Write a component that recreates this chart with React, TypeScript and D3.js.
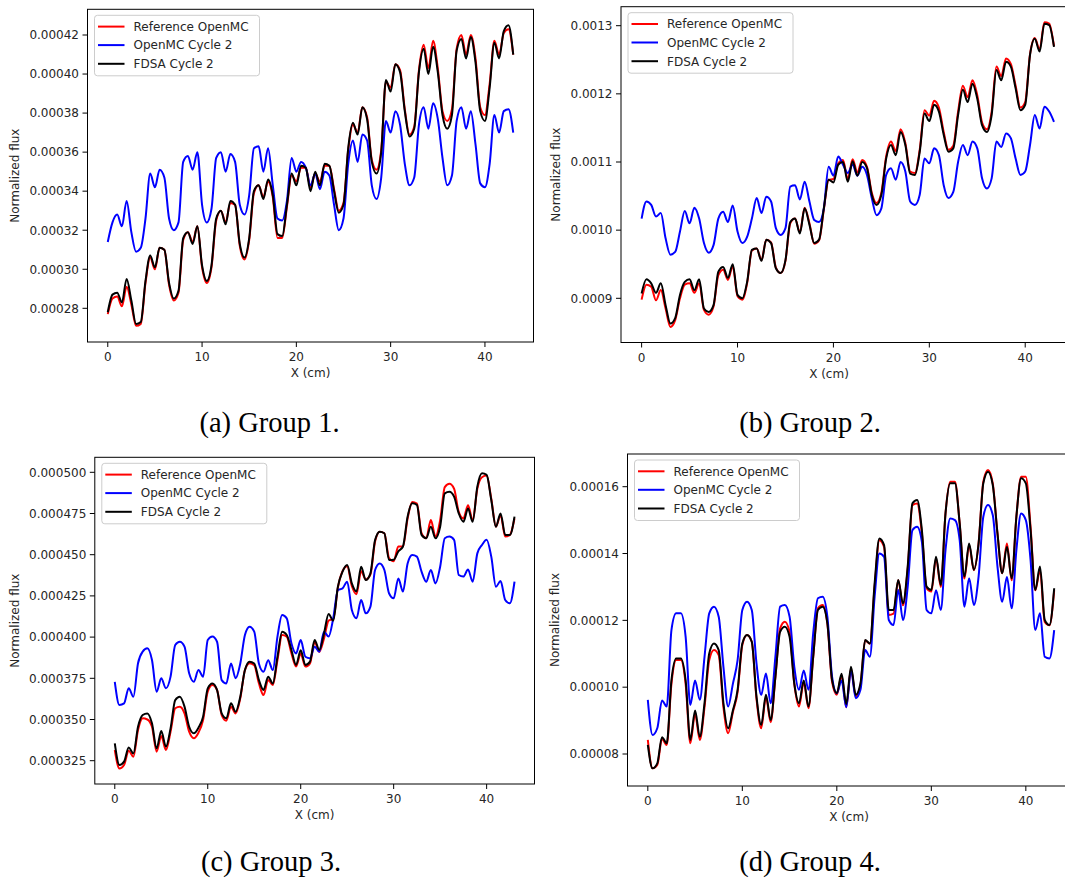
import React from 'react';
import * as d3 from 'd3';

// Sample positions along X (cm): 0, 0.5, 1.0, ..., 43.0
const xPositions = d3.range(0, 87).map((i) => i * 0.5);

// ---------- Group 1 ----------
const group1Reference = [
  2.77e-4, 2.85e-4, 2.86e-4, 2.81e-4, 2.91e-4, 2.82e-4, 2.71e-4, 2.72e-4, 2.93e-4, 3.06e-4,
  3.00e-4, 3.11e-4, 3.10e-4, 2.92e-4, 2.84e-4, 2.88e-4, 3.15e-4, 3.19e-4, 3.14e-4, 3.22e-4,
  3.01e-4, 2.93e-4, 3.01e-4, 3.25e-4, 3.30e-4, 3.24e-4, 3.34e-4, 3.33e-4, 3.12e-4, 3.05e-4,
  3.15e-4, 3.39e-4, 3.43e-4, 3.37e-4, 3.45e-4, 3.37e-4, 3.16e-4, 3.16e-4, 3.32e-4, 3.48e-4,
  3.45e-4, 3.52e-4, 3.52e-4, 3.42e-4, 3.49e-4, 3.45e-4, 3.53e-4, 3.53e-4, 3.41e-4, 3.30e-4,
  3.34e-4, 3.61e-4, 3.74e-4, 3.70e-4, 3.83e-4, 3.78e-4, 3.56e-4, 3.51e-4, 3.61e-4, 3.96e-4,
  3.93e-4, 4.05e-4, 4.02e-4, 3.82e-4, 3.69e-4, 3.73e-4, 4.02e-4, 4.15e-4, 4.03e-4, 4.17e-4,
  4.03e-4, 3.81e-4, 3.76e-4, 3.82e-4, 4.13e-4, 4.20e-4, 4.10e-4, 4.20e-4, 4.08e-4, 3.83e-4,
  3.79e-4, 3.95e-4, 4.17e-4, 4.10e-4, 4.21e-4, 4.23e-4, 4.10e-4,
];
const group1OpenMC = [
  3.14e-4, 3.24e-4, 3.28e-4, 3.22e-4, 3.35e-4, 3.19e-4, 3.09e-4, 3.11e-4, 3.26e-4, 3.49e-4,
  3.42e-4, 3.51e-4, 3.47e-4, 3.26e-4, 3.20e-4, 3.24e-4, 3.55e-4, 3.58e-4, 3.51e-4, 3.60e-4,
  3.33e-4, 3.24e-4, 3.31e-4, 3.57e-4, 3.60e-4, 3.50e-4, 3.59e-4, 3.55e-4, 3.33e-4, 3.28e-4,
  3.38e-4, 3.62e-4, 3.63e-4, 3.50e-4, 3.62e-4, 3.43e-4, 3.26e-4, 3.25e-4, 3.35e-4, 3.57e-4,
  3.50e-4, 3.55e-4, 3.52e-4, 3.43e-4, 3.49e-4, 3.41e-4, 3.50e-4, 3.48e-4, 3.33e-4, 3.20e-4,
  3.26e-4, 3.54e-4, 3.66e-4, 3.55e-4, 3.69e-4, 3.66e-4, 3.43e-4, 3.36e-4, 3.47e-4, 3.76e-4,
  3.70e-4, 3.81e-4, 3.74e-4, 3.54e-4, 3.43e-4, 3.47e-4, 3.74e-4, 3.83e-4, 3.72e-4, 3.85e-4,
  3.77e-4, 3.57e-4, 3.43e-4, 3.48e-4, 3.76e-4, 3.83e-4, 3.72e-4, 3.81e-4, 3.64e-4, 3.44e-4,
  3.42e-4, 3.54e-4, 3.79e-4, 3.70e-4, 3.81e-4, 3.82e-4, 3.70e-4,
];
const group1FDSA = [
  2.78e-4, 2.87e-4, 2.88e-4, 2.83e-4, 2.95e-4, 2.84e-4, 2.72e-4, 2.73e-4, 2.94e-4, 3.07e-4,
  3.01e-4, 3.11e-4, 3.10e-4, 2.93e-4, 2.85e-4, 2.89e-4, 3.16e-4, 3.19e-4, 3.13e-4, 3.22e-4,
  3.02e-4, 2.94e-4, 3.02e-4, 3.26e-4, 3.30e-4, 3.23e-4, 3.35e-4, 3.33e-4, 3.13e-4, 3.06e-4,
  3.16e-4, 3.40e-4, 3.43e-4, 3.36e-4, 3.46e-4, 3.38e-4, 3.18e-4, 3.17e-4, 3.33e-4, 3.49e-4,
  3.43e-4, 3.53e-4, 3.52e-4, 3.40e-4, 3.50e-4, 3.43e-4, 3.54e-4, 3.53e-4, 3.40e-4, 3.29e-4,
  3.33e-4, 3.62e-4, 3.75e-4, 3.69e-4, 3.83e-4, 3.77e-4, 3.55e-4, 3.49e-4, 3.60e-4, 3.97e-4,
  3.91e-4, 4.05e-4, 4.01e-4, 3.81e-4, 3.68e-4, 3.72e-4, 4.01e-4, 4.13e-4, 4.00e-4, 4.14e-4,
  4.01e-4, 3.79e-4, 3.72e-4, 3.79e-4, 4.12e-4, 4.18e-4, 4.08e-4, 4.19e-4, 4.06e-4, 3.81e-4,
  3.76e-4, 3.93e-4, 4.16e-4, 4.08e-4, 4.22e-4, 4.25e-4, 4.10e-4,
];

// ---------- Group 2 ----------
const group2Reference = [
  8.98e-4, 9.20e-4, 9.17e-4, 8.97e-4, 9.12e-4, 8.85e-4, 8.58e-4, 8.68e-4, 9.00e-4, 9.20e-4,
  9.22e-4, 9.08e-4, 9.22e-4, 8.83e-4, 8.76e-4, 8.88e-4, 9.34e-4, 9.42e-4, 9.27e-4, 9.47e-4,
  9.03e-4, 8.98e-4, 9.22e-4, 9.70e-4, 9.73e-4, 9.56e-4, 9.86e-4, 9.82e-4, 9.45e-4, 9.37e-4,
  9.55e-4, 10.10e-4, 10.17e-4, 9.97e-4, 10.33e-4, 10.10e-4, 9.80e-4, 9.85e-4, 10.30e-4, 10.74e-4,
  10.75e-4, 10.98e-4, 11.03e-4, 10.75e-4, 11.04e-4, 10.85e-4, 11.03e-4, 10.93e-4, 10.55e-4, 10.40e-4,
  10.55e-4, 11.08e-4, 11.30e-4, 11.16e-4, 11.48e-4, 11.28e-4, 10.86e-4, 10.84e-4, 11.18e-4, 11.76e-4,
  11.68e-4, 11.90e-4, 11.80e-4, 11.44e-4, 11.18e-4, 11.24e-4, 11.74e-4, 12.12e-4, 11.95e-4, 12.20e-4,
  11.98e-4, 11.58e-4, 11.48e-4, 11.74e-4, 12.40e-4, 12.26e-4, 12.52e-4, 12.44e-4, 12.12e-4, 11.80e-4,
  11.88e-4, 12.58e-4, 12.82e-4, 12.65e-4, 13.05e-4, 13.03e-4, 12.70e-4,
];
const group2OpenMC = [
  10.17e-4, 10.42e-4, 10.37e-4, 10.20e-4, 10.25e-4, 9.88e-4, 9.64e-4, 9.68e-4, 9.98e-4, 10.28e-4,
  10.10e-4, 10.33e-4, 10.17e-4, 9.81e-4, 9.67e-4, 9.78e-4, 10.17e-4, 10.27e-4, 10.12e-4, 10.36e-4,
  9.98e-4, 9.81e-4, 9.90e-4, 10.17e-4, 10.47e-4, 10.25e-4, 10.49e-4, 10.42e-4, 10.03e-4, 9.93e-4,
  10.03e-4, 10.64e-4, 10.66e-4, 10.45e-4, 10.71e-4, 10.42e-4, 10.15e-4, 10.12e-4, 10.32e-4, 10.93e-4,
  10.80e-4, 11.08e-4, 10.96e-4, 10.84e-4, 10.96e-4, 10.80e-4, 10.93e-4, 10.81e-4, 10.47e-4, 10.22e-4,
  10.32e-4, 10.81e-4, 10.91e-4, 10.74e-4, 11.00e-4, 10.86e-4, 10.42e-4, 10.37e-4, 10.52e-4, 11.05e-4,
  10.98e-4, 11.20e-4, 11.10e-4, 10.66e-4, 10.47e-4, 10.56e-4, 11.00e-4, 11.25e-4, 11.10e-4, 11.30e-4,
  11.20e-4, 10.76e-4, 10.61e-4, 10.76e-4, 11.30e-4, 11.22e-4, 11.42e-4, 11.35e-4, 11.05e-4, 10.81e-4,
  10.86e-4, 11.25e-4, 11.69e-4, 11.49e-4, 11.81e-4, 11.74e-4, 11.59e-4,
];
const group2FDSA = [
  9.07e-4, 9.28e-4, 9.22e-4, 9.08e-4, 9.22e-4, 8.90e-4, 8.63e-4, 8.71e-4, 9.05e-4, 9.24e-4,
  9.28e-4, 9.12e-4, 9.28e-4, 8.85e-4, 8.80e-4, 8.90e-4, 9.39e-4, 9.46e-4, 9.30e-4, 9.50e-4,
  9.05e-4, 9.00e-4, 9.24e-4, 9.71e-4, 9.73e-4, 9.55e-4, 9.86e-4, 9.81e-4, 9.44e-4, 9.37e-4,
  9.56e-4, 10.12e-4, 10.17e-4, 9.95e-4, 10.32e-4, 10.08e-4, 9.81e-4, 9.86e-4, 10.32e-4, 10.74e-4,
  10.70e-4, 10.96e-4, 11.00e-4, 10.71e-4, 11.01e-4, 10.80e-4, 11.00e-4, 10.91e-4, 10.52e-4, 10.37e-4,
  10.52e-4, 11.05e-4, 11.25e-4, 11.10e-4, 11.44e-4, 11.25e-4, 10.83e-4, 10.81e-4, 11.15e-4, 11.71e-4,
  11.60e-4, 11.84e-4, 11.74e-4, 11.40e-4, 11.15e-4, 11.20e-4, 11.69e-4, 12.06e-4, 11.88e-4, 12.15e-4,
  11.93e-4, 11.54e-4, 11.44e-4, 11.69e-4, 12.35e-4, 12.20e-4, 12.47e-4, 12.40e-4, 12.08e-4, 11.76e-4,
  11.84e-4, 12.57e-4, 12.81e-4, 12.62e-4, 13.03e-4, 13.01e-4, 12.69e-4,
];

// ---------- Group 3 ----------
const group3Reference = [
  3.315e-4, 3.203e-4, 3.224e-4, 3.310e-4, 3.274e-4, 3.436e-4, 3.507e-4, 3.500e-4, 3.456e-4, 3.305e-4,
  3.400e-4, 3.315e-4, 3.426e-4, 3.568e-4, 3.578e-4, 3.537e-4, 3.426e-4, 3.386e-4, 3.420e-4, 3.497e-4,
  3.669e-4, 3.709e-4, 3.679e-4, 3.527e-4, 3.493e-4, 3.578e-4, 3.537e-4, 3.628e-4, 3.800e-4, 3.841e-4,
  3.830e-4, 3.720e-4, 3.648e-4, 3.740e-4, 3.709e-4, 3.861e-4, 4.013e-4, 4.003e-4, 3.902e-4, 3.821e-4,
  3.900e-4, 3.821e-4, 3.841e-4, 3.970e-4, 3.910e-4, 3.990e-4, 4.100e-4, 4.110e-4, 4.300e-4, 4.400e-4,
  4.430e-4, 4.310e-4, 4.260e-4, 4.400e-4, 4.350e-4, 4.380e-4, 4.580e-4, 4.640e-4, 4.630e-4, 4.480e-4,
  4.460e-4, 4.550e-4, 4.550e-4, 4.720e-4, 4.820e-4, 4.810e-4, 4.630e-4, 4.600e-4, 4.710e-4, 4.610e-4,
  4.710e-4, 4.910e-4, 4.930e-4, 4.900e-4, 4.760e-4, 4.720e-4, 4.800e-4, 4.710e-4, 4.900e-4, 4.970e-4,
  4.980e-4, 4.840e-4, 4.670e-4, 4.740e-4, 4.610e-4, 4.620e-4, 4.720e-4,
];
const group3OpenMC = [
  3.729e-4, 3.588e-4, 3.598e-4, 3.690e-4, 3.638e-4, 3.841e-4, 3.912e-4, 3.932e-4, 3.861e-4, 3.669e-4,
  3.750e-4, 3.689e-4, 3.760e-4, 3.952e-4, 3.972e-4, 3.942e-4, 3.780e-4, 3.729e-4, 3.800e-4, 3.760e-4,
  3.982e-4, 4.003e-4, 3.972e-4, 3.739e-4, 3.719e-4, 3.840e-4, 3.750e-4, 3.840e-4, 4.013e-4, 4.063e-4,
  4.033e-4, 3.840e-4, 3.790e-4, 3.860e-4, 3.800e-4, 4.003e-4, 4.134e-4, 4.114e-4, 3.962e-4, 3.901e-4,
  3.982e-4, 3.881e-4, 3.871e-4, 3.942e-4, 3.911e-4, 4.033e-4, 4.003e-4, 4.114e-4, 4.286e-4, 4.296e-4,
  4.336e-4, 4.164e-4, 4.114e-4, 4.225e-4, 4.144e-4, 4.185e-4, 4.407e-4, 4.447e-4, 4.407e-4, 4.266e-4,
  4.235e-4, 4.356e-4, 4.276e-4, 4.447e-4, 4.498e-4, 4.488e-4, 4.397e-4, 4.336e-4, 4.407e-4, 4.326e-4,
  4.427e-4, 4.600e-4, 4.610e-4, 4.590e-4, 4.377e-4, 4.367e-4, 4.410e-4, 4.336e-4, 4.508e-4, 4.559e-4,
  4.590e-4, 4.488e-4, 4.306e-4, 4.340e-4, 4.225e-4, 4.205e-4, 4.336e-4,
];
const group3FDSA = [
  3.355e-4, 3.224e-4, 3.244e-4, 3.330e-4, 3.294e-4, 3.456e-4, 3.527e-4, 3.537e-4, 3.477e-4, 3.325e-4,
  3.430e-4, 3.335e-4, 3.446e-4, 3.618e-4, 3.638e-4, 3.578e-4, 3.456e-4, 3.416e-4, 3.450e-4, 3.517e-4,
  3.689e-4, 3.719e-4, 3.679e-4, 3.537e-4, 3.507e-4, 3.598e-4, 3.547e-4, 3.638e-4, 3.800e-4, 3.851e-4,
  3.840e-4, 3.740e-4, 3.679e-4, 3.760e-4, 3.719e-4, 3.881e-4, 4.033e-4, 4.013e-4, 3.922e-4, 3.831e-4,
  3.920e-4, 3.831e-4, 3.851e-4, 3.982e-4, 3.922e-4, 4.020e-4, 4.140e-4, 4.100e-4, 4.306e-4, 4.397e-4,
  4.437e-4, 4.326e-4, 4.276e-4, 4.427e-4, 4.346e-4, 4.387e-4, 4.589e-4, 4.640e-4, 4.630e-4, 4.468e-4,
  4.470e-4, 4.520e-4, 4.550e-4, 4.731e-4, 4.812e-4, 4.802e-4, 4.620e-4, 4.600e-4, 4.670e-4, 4.600e-4,
  4.670e-4, 4.872e-4, 4.882e-4, 4.852e-4, 4.751e-4, 4.700e-4, 4.780e-4, 4.700e-4, 4.913e-4, 4.994e-4,
  4.984e-4, 4.832e-4, 4.670e-4, 4.750e-4, 4.620e-4, 4.620e-4, 4.731e-4,
];

// ---------- Group 4 ----------
const group4Reference = [
  0.842e-4, 0.757e-4, 0.767e-4, 0.845e-4, 0.827e-4, 1.010e-4, 1.081e-4, 1.081e-4, 1.010e-4, 0.832e-4,
  0.920e-4, 0.842e-4, 0.940e-4, 1.081e-4, 1.111e-4, 1.096e-4, 0.940e-4, 0.862e-4, 0.925e-4, 0.985e-4,
  1.126e-4, 1.156e-4, 1.136e-4, 0.965e-4, 0.877e-4, 0.970e-4, 0.895e-4, 1.030e-4, 1.176e-4, 1.196e-4,
  1.166e-4, 1.010e-4, 0.942e-4, 1.015e-4, 0.937e-4, 1.090e-4, 1.236e-4, 1.246e-4, 1.190e-4, 1.015e-4,
  0.977e-4, 1.035e-4, 0.940e-4, 1.055e-4, 0.972e-4, 1.006e-4, 1.140e-4, 1.130e-4, 1.300e-4, 1.440e-4,
  1.420e-4, 1.216e-4, 1.220e-4, 1.320e-4, 1.245e-4, 1.355e-4, 1.545e-4, 1.550e-4, 1.460e-4, 1.296e-4,
  1.286e-4, 1.385e-4, 1.300e-4, 1.520e-4, 1.615e-4, 1.615e-4, 1.490e-4, 1.325e-4, 1.425e-4, 1.350e-4,
  1.430e-4, 1.615e-4, 1.650e-4, 1.610e-4, 1.460e-4, 1.341e-4, 1.430e-4, 1.320e-4, 1.510e-4, 1.630e-4,
  1.630e-4, 1.480e-4, 1.290e-4, 1.350e-4, 1.195e-4, 1.185e-4, 1.290e-4,
];
const group4OpenMC = [
  0.962e-4, 0.857e-4, 0.877e-4, 0.960e-4, 0.942e-4, 1.171e-4, 1.221e-4, 1.221e-4, 1.151e-4, 0.947e-4,
  1.020e-4, 0.962e-4, 1.091e-4, 1.221e-4, 1.241e-4, 1.211e-4, 1.061e-4, 0.942e-4, 1.010e-4, 1.081e-4,
  1.231e-4, 1.256e-4, 1.231e-4, 1.071e-4, 0.977e-4, 1.041e-4, 0.952e-4, 1.091e-4, 1.241e-4, 1.246e-4,
  1.211e-4, 1.061e-4, 0.992e-4, 1.050e-4, 0.992e-4, 1.161e-4, 1.266e-4, 1.271e-4, 1.211e-4, 1.031e-4,
  0.982e-4, 1.020e-4, 0.940e-4, 1.051e-4, 0.967e-4, 0.992e-4, 1.111e-4, 1.091e-4, 1.271e-4, 1.400e-4,
  1.390e-4, 1.201e-4, 1.186e-4, 1.291e-4, 1.201e-4, 1.301e-4, 1.470e-4, 1.480e-4, 1.435e-4, 1.231e-4,
  1.221e-4, 1.290e-4, 1.231e-4, 1.410e-4, 1.505e-4, 1.500e-4, 1.440e-4, 1.241e-4, 1.326e-4, 1.246e-4,
  1.331e-4, 1.510e-4, 1.545e-4, 1.515e-4, 1.361e-4, 1.256e-4, 1.330e-4, 1.236e-4, 1.410e-4, 1.520e-4,
  1.500e-4, 1.381e-4, 1.171e-4, 1.221e-4, 1.091e-4, 1.086e-4, 1.171e-4,
];
const group4FDSA = [
  0.827e-4, 0.757e-4, 0.772e-4, 0.850e-4, 0.832e-4, 1.021e-4, 1.086e-4, 1.086e-4, 1.021e-4, 0.842e-4,
  0.930e-4, 0.852e-4, 0.952e-4, 1.101e-4, 1.131e-4, 1.111e-4, 0.952e-4, 0.877e-4, 0.930e-4, 0.992e-4,
  1.131e-4, 1.156e-4, 1.136e-4, 0.972e-4, 0.887e-4, 0.977e-4, 0.902e-4, 1.031e-4, 1.166e-4, 1.181e-4,
  1.151e-4, 1.011e-4, 0.952e-4, 1.020e-4, 0.942e-4, 1.091e-4, 1.231e-4, 1.241e-4, 1.191e-4, 1.021e-4,
  0.982e-4, 1.040e-4, 0.950e-4, 1.061e-4, 0.977e-4, 1.011e-4, 1.141e-4, 1.131e-4, 1.311e-4, 1.445e-4,
  1.425e-4, 1.231e-4, 1.231e-4, 1.321e-4, 1.251e-4, 1.361e-4, 1.550e-4, 1.560e-4, 1.470e-4, 1.301e-4,
  1.291e-4, 1.390e-4, 1.306e-4, 1.520e-4, 1.610e-4, 1.610e-4, 1.490e-4, 1.331e-4, 1.430e-4, 1.351e-4,
  1.430e-4, 1.610e-4, 1.645e-4, 1.605e-4, 1.460e-4, 1.341e-4, 1.420e-4, 1.326e-4, 1.510e-4, 1.625e-4,
  1.610e-4, 1.470e-4, 1.291e-4, 1.361e-4, 1.201e-4, 1.186e-4, 1.296e-4,
];

// ---------- Labels & ticks ----------
const seriesLabels = ['Reference OpenMC', 'OpenMC Cycle 2', 'FDSA Cycle 2'];
const seriesColors = ['#ff0000', '#0000ff', '#000000'];
const xTicks = [0, 10, 20, 30, 40];
const group1YTicks = [0.00028, 0.0003, 0.00032, 0.00034, 0.00036, 0.00038, 0.0004, 0.00042];
const group2YTicks = [0.0009, 0.001, 0.0011, 0.0012, 0.0013];
const group3YTicks = [0.000325, 0.00035, 0.000375, 0.0004, 0.000425, 0.00045, 0.000475, 0.0005];
const group4YTicks = [0.00008, 0.0001, 0.00012, 0.00014, 0.00016];
const captions = ['(a) Group 1.', '(b) Group 2.', '(c) Group 3.', '(d) Group 4.'];
const xLabel = 'X (cm)';
const yLabel = 'Normalized flux';

const panelData = [
  { series: [group1Reference, group1OpenMC, group1FDSA], yTicks: group1YTicks, decimals: 5 },
  { series: [group2Reference, group2OpenMC, group2FDSA], yTicks: group2YTicks, decimals: 4 },
  { series: [group3Reference, group3OpenMC, group3FDSA], yTicks: group3YTicks, decimals: 6 },
  { series: [group4Reference, group4OpenMC, group4FDSA], yTicks: group4YTicks, decimals: 5 },
];

// ---------- Layout (pixels) ----------
const layouts = [
  { l: 87.5, t: 9.3, r: 533.5, b: 342, yPix: [308.3, 35], xLabX: 310.5, capX: 269.5, capY: 431.5 },
  { l: 621, t: 6.7, r: 1074.6, b: 342.5, yPix: [298.3, 25.7], xLabX: 829, capX: 810, capY: 431.5 },
  { l: 94.8, t: 457.3, r: 534.5, b: 784, yPix: [760.7, 472.3], xLabX: 314.6, capX: 271, capY: 871 },
  { l: 627.5, t: 454, r: 1074.5, b: 786, yPix: [754, 486.7], xLabX: 849, capX: 810, capY: 871 },
];

const FONT = 'DejaVu Sans, Verdana, sans-serif';
const TEXT = '#262626';

function Panel({ idx }: { idx: number }) {
  const L = layouts[idx];
  const D = panelData[idx];
  const x = d3.scaleLinear().domain([-2.15, 45.15]).range([L.l, L.r]);
  const yLo = D.yTicks[0];
  const yHi = D.yTicks[D.yTicks.length - 1];
  const y = d3.scaleLinear().domain([yLo, yHi]).range(L.yPix);
  const line = d3
    .line<number>()
    .x((_, i) => x(xPositions[i]))
    .y((v) => y(v))
    .curve(d3.curveMonotoneX);
  const clipId = `clip-${idx}`;
  const legL = L.l + 7;
  const legT = L.t + 6;
  const rowOff = [11.3, 29.8, 48.5];
  const midY = (L.t + L.b) / 2;
  const firstTickLabelWidth = D.yTicks[0].toFixed(D.decimals).length;
  const yLabelX = L.l - 9 - (firstTickLabelWidth - 1) * 7.63 - 3.8 - 14;
  return (
    <g>
      <defs>
        <clipPath id={clipId}>
          <rect x={L.l} y={L.t} width={L.r - L.l} height={L.b - L.t} />
        </clipPath>
      </defs>
      <g clipPath={`url(#${clipId})`}>
        {D.series.map((s, k) => (
          <path key={k} d={line(s) || ''} fill="none" stroke={seriesColors[k]} strokeWidth={2} strokeLinejoin="round" />
        ))}
      </g>
      <rect x={L.l} y={L.t} width={L.r - L.l} height={L.b - L.t} fill="none" stroke="#000" strokeWidth={1} />
      {xTicks.map((t) => (
        <g key={t}>
          <line x1={x(t)} x2={x(t)} y1={L.b} y2={L.b + 5} stroke="#000" strokeWidth={1} />
          <text x={x(t)} y={L.b + 19} textAnchor="middle" fontFamily={FONT} fontSize={12} fill={TEXT}>
            {t}
          </text>
        </g>
      ))}
      {D.yTicks.map((t) => (
        <g key={t}>
          <line x1={L.l - 5} x2={L.l} y1={y(t)} y2={y(t)} stroke="#000" strokeWidth={1} />
          <text x={L.l - 8.5} y={y(t) + 4.3} textAnchor="end" fontFamily={FONT} fontSize={12} fill={TEXT}>
            {t.toFixed(D.decimals)}
          </text>
        </g>
      ))}
      <text x={L.xLabX} y={L.b + 35.3} textAnchor="middle" fontFamily={FONT} fontSize={12} fill={TEXT}>
        {xLabel}
      </text>
      <text
        transform={`translate(${yLabelX},${midY}) rotate(-90)`}
        dy="0.35em"
        textAnchor="middle"
        fontFamily={FONT}
        fontSize={12}
        fill={TEXT}
      >
        {yLabel}
      </text>
      <rect x={legL} y={legT} width={165} height={60.5} rx={3} fill="#fff" fillOpacity={0.8} stroke="#cccccc" strokeWidth={1} />
      {seriesLabels.map((lab, k) => (
        <g key={lab}>
          <line x1={legL + 3.5} x2={legL + 30} y1={legT + rowOff[k]} y2={legT + rowOff[k]} stroke={seriesColors[k]} strokeWidth={2} />
          <text x={legL + 39} y={legT + rowOff[k] + 4.3} fontFamily={FONT} fontSize={12} fill={TEXT}>
            {lab}
          </text>
        </g>
      ))}
      <text x={L.capX} y={L.capY} textAnchor="middle" fontFamily="Liberation Serif, Times New Roman, serif" fontSize={28.5} fill="#000">
        {captions[idx]}
      </text>
    </g>
  );
}

export default function App() {
  return (
    <svg
      width={1065}
      height={882}
      style={{ position: 'absolute', left: 0, top: 0, background: '#fff' }}
      xmlns="http://www.w3.org/2000/svg"
    >
      <rect x={0} y={0} width={1065} height={882} fill="#fff" />
      {[0, 1, 2, 3].map((i) => (
        <Panel key={i} idx={i} />
      ))}
    </svg>
  );
}
